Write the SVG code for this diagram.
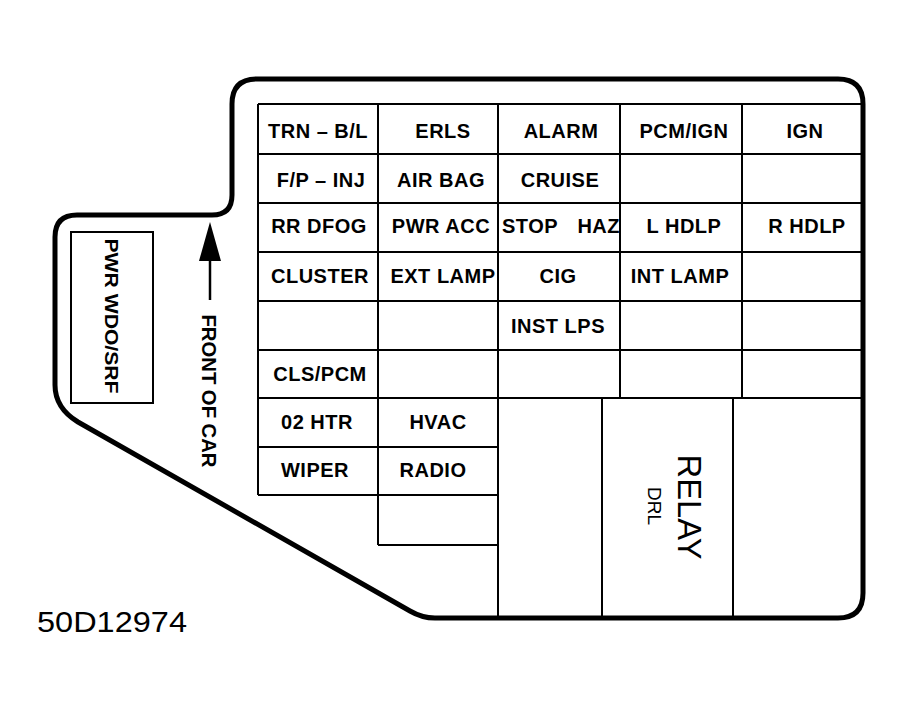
<svg xmlns="http://www.w3.org/2000/svg" width="906" height="707" viewBox="0 0 906 707">
<style>
.outline{fill:none;stroke:#000;stroke-width:5;stroke-linejoin:round}
.grid line{stroke:#000;stroke-width:2}
.lbl{font-family:"Liberation Sans",Arial,sans-serif;font-weight:bold;font-size:20px;letter-spacing:0.5px;fill:#000;text-anchor:middle}
.lbl-l{text-anchor:start}
.lbl-r{text-anchor:end}
.reg{font-family:"Liberation Sans",Arial,sans-serif;fill:#000}
</style>
<rect width="906" height="707" fill="#fff"/>
<g id="housing">
<path class="outline" d="M 232,104 Q 232,79 257,79 L 838,79 Q 863,79 863,104 L 863,593 Q 863,618 838,618 L 435,618 Q 422,618 410,611 L 78,422 Q 55,408 55,385 L 55,237 Q 55,215 77,215 L 212,215 Q 232,215 232,195 Z"/>
</g>
<g class="grid" id="grid">
<line x1="258" y1="104" x2="863" y2="104"/>
<line x1="258" y1="154" x2="863" y2="154"/>
<line x1="258" y1="203" x2="863" y2="203"/>
<line x1="258" y1="252" x2="863" y2="252"/>
<line x1="258" y1="301" x2="863" y2="301"/>
<line x1="258" y1="350" x2="863" y2="350"/>
<line x1="258" y1="398" x2="863" y2="398"/>
<line x1="258" y1="447" x2="498" y2="447"/>
<line x1="258" y1="495" x2="498" y2="495"/>
<line x1="378" y1="545" x2="498" y2="545"/>
<line x1="258" y1="104" x2="258" y2="495"/>
<line x1="378" y1="104" x2="378" y2="545"/>
<line x1="498" y1="104" x2="498" y2="618"/>
<line x1="620" y1="104" x2="620" y2="398"/>
<line x1="742" y1="104" x2="742" y2="398"/>
<line x1="602" y1="398" x2="602" y2="618"/>
<line x1="733" y1="398" x2="733" y2="618"/>
</g>
<g id="pwr-wdo-srf">
<rect x="71" y="232" width="82" height="171" fill="none" stroke="#000" stroke-width="2"/>
<text class="lbl" font-size="18" textLength="155" lengthAdjust="spacingAndGlyphs" transform="translate(105,316) rotate(90)" style="font-size:18px;letter-spacing:0">PWR WDO/SRF</text>
</g>
<g id="front-of-car">
<line x1="210" y1="255" x2="210" y2="300" stroke="#000" stroke-width="2.5"/>
<polygon points="210,222 199,261 221,261" fill="#000"/>
<text class="lbl" transform="translate(202,391) rotate(90)" style="letter-spacing:0" textLength="153" lengthAdjust="spacingAndGlyphs">FRONT OF CAR</text>
</g>
<g id="fuses">
<g id="f-trn-bl"><text class="lbl" x="318" y="138">TRN – B/L</text></g>
<g id="f-erls"><text class="lbl" x="443" y="138">ERLS</text></g>
<g id="f-alarm"><text class="lbl" x="561" y="138">ALARM</text></g>
<g id="f-pcm-ign"><text class="lbl" x="684" y="138">PCM/IGN</text></g>
<g id="f-ign"><text class="lbl" x="805" y="138">IGN</text></g>
<g id="f-fp-inj"><text class="lbl" x="321" y="187">F/P – INJ</text></g>
<g id="f-air-bag"><text class="lbl" x="441" y="187">AIR BAG</text></g>
<g id="f-cruise"><text class="lbl" x="560" y="187">CRUISE</text></g>
<g id="f-rr-dfog"><text class="lbl" x="319" y="233">RR DFOG</text></g>
<g id="f-pwr-acc"><text class="lbl" x="441" y="233">PWR ACC</text></g>
<g id="f-stop-haz"><text class="lbl lbl-l" x="502" y="233">STOP</text><text class="lbl lbl-r" x="620" y="233">HAZ</text></g>
<g id="f-l-hdlp"><text class="lbl" x="684" y="233">L HDLP</text></g>
<g id="f-r-hdlp"><text class="lbl" x="807" y="233">R HDLP</text></g>
<g id="f-cluster"><text class="lbl" x="320" y="283">CLUSTER</text></g>
<g id="f-ext-lamp"><text class="lbl" x="443" y="283">EXT LAMP</text></g>
<g id="f-cig"><text class="lbl" x="558" y="283">CIG</text></g>
<g id="f-int-lamp"><text class="lbl" x="680" y="283">INT LAMP</text></g>
<g id="f-inst-lps"><text class="lbl" x="558" y="333">INST LPS</text></g>
<g id="f-cls-pcm"><text class="lbl" x="320" y="381">CLS/PCM</text></g>
<g id="f-02-htr"><text class="lbl" x="317" y="429">02 HTR</text></g>
<g id="f-hvac"><text class="lbl" x="438" y="429">HVAC</text></g>
<g id="f-wiper"><text class="lbl" x="315" y="477">WIPER</text></g>
<g id="f-radio"><text class="lbl" x="433" y="477">RADIO</text></g>
</g>
<g id="drl-relay">
<text class="reg" font-size="33" text-anchor="middle" transform="translate(678,507) rotate(90)" textLength="105" lengthAdjust="spacingAndGlyphs">RELAY</text>
<text class="reg" font-size="19" text-anchor="middle" transform="translate(648,506) rotate(90)" textLength="38" lengthAdjust="spacingAndGlyphs">DRL</text>
</g>
<text class="reg" font-size="30" x="37" y="632" textLength="150" lengthAdjust="spacingAndGlyphs">50D12974</text>
</svg>
